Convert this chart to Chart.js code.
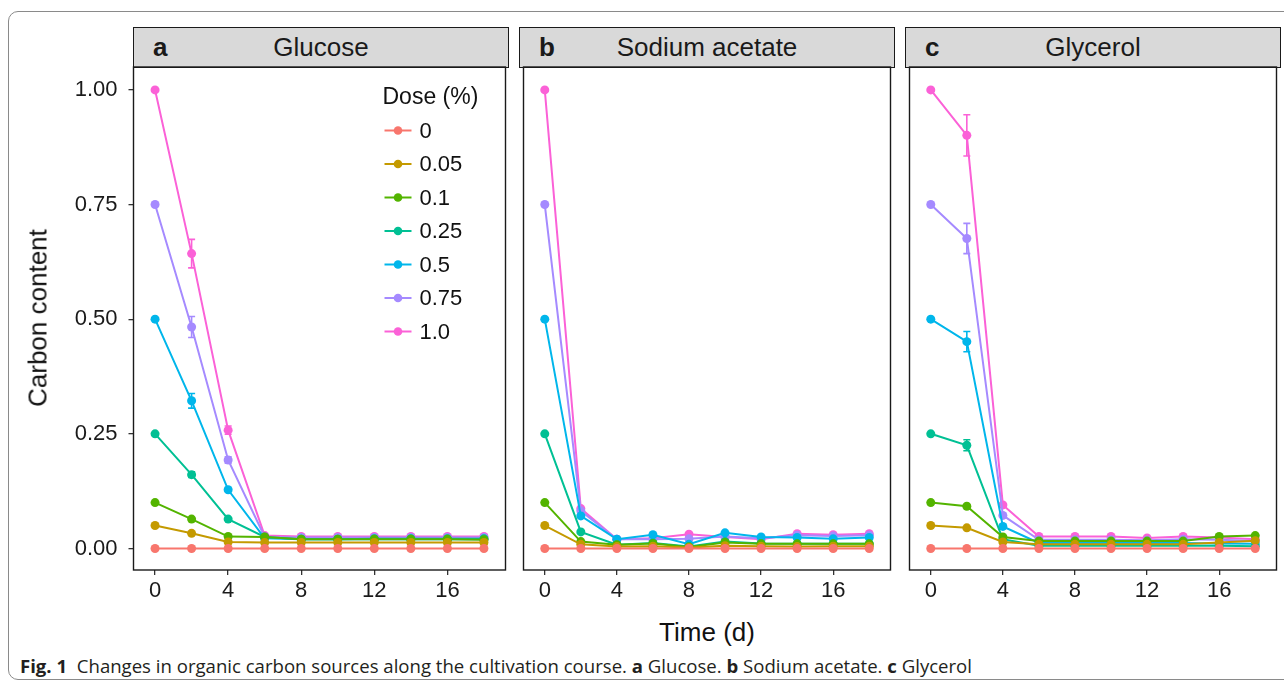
<!DOCTYPE html>
<html>
<head>
<meta charset="utf-8">
<script src="https://cdn.jsdelivr.net/npm/chart.js@4"></script>
<style>
  html, body { margin: 0; padding: 0; background: #fff; }
  body { width: 1284px; height: 685px; position: relative; overflow: hidden; font-family: "Liberation Sans", Arial, sans-serif; }
  .frame { position: absolute; left: 8px; top: 11px; width: 1300px; height: 669px; border: 1px solid #8a8a8a; border-radius: 10px; box-sizing: border-box; }
  .panel { position: absolute; top: 60px; }
  .strip { position: absolute; top: 27px; height: 41px; background: #d9d9d9; border: 1.4px solid #1a1a1a; box-sizing: border-box; font-size: 26px; color: #1a1a1a; }
  .strip .tag { position: absolute; left: 19px; top: 50%; transform: translateY(-52%); font-weight: bold; }
  .strip .name { position: absolute; left: 0; right: 0; text-align: center; top: 50%; transform: translateY(-52%); }
  .ytitle { position: absolute; left: 38px; top: 318px; transform: translate(-50%, -50%) rotate(-90deg); font-size: 26px; white-space: nowrap; color: #111; }
  .xtitle { position: absolute; left: 707px; top: 632px; transform: translate(-50%, -50%); font-size: 26px; white-space: nowrap; color: #111; }
  #caption { position: absolute; left: 20px; top: 654px; font-family: "Open Sans", sans-serif; font-size: 18px; color: #231f20; white-space: nowrap; transform-origin: left top; }
</style>
</head>
<body>
<div class="frame"></div>

<div class="strip" style="left:133px; width:376px;"><span class="tag">a</span><span class="name">Glucose</span></div>
<div class="strip" style="left:519px; width:376px;"><span class="tag">b</span><span class="name">Sodium acetate</span></div>
<div class="strip" style="left:905px; width:376px;"><span class="tag">c</span><span class="name">Glycerol</span></div>

<div class="panel" style="left:0px;"><canvas id="chart-a" width="510" height="545"></canvas></div>
<div class="panel" style="left:519px;"><canvas id="chart-b" width="376" height="545"></canvas></div>
<div class="panel" style="left:905px;"><canvas id="chart-c" width="376" height="545"></canvas></div>

<div class="ytitle">Carbon content</div>
<div class="xtitle">Time (d)</div>
<div id="caption"><b>Fig. 1</b>&nbsp; Changes in organic carbon sources along the cultivation course. <b>a</b> Glucose. <b>b</b> Sodium acetate. <b>c</b> Glycerol</div>

<script>
// ==================================================
// DATA
// ==================================================
const time = [0, 2, 4, 6, 8, 10, 12, 14, 16, 18];
const doses = ["0", "0.05", "0.1", "0.25", "0.5", "0.75", "1.0"];
const colors = ["#F8766D", "#C49A00", "#53B400", "#00C094", "#00B6EB", "#A58AFF", "#FB61D7"];
const xTicks = [0, 4, 8, 12, 16];
const yTicks = [0, 0.25, 0.5, 0.75, 1.0];

// one row per dose, same order as doses
const glucose = [
  [0, 0, 0, 0, 0, 0, 0, 0, 0, 0],
  [0.05, 0.033, 0.014, 0.013, 0.013, 0.013, 0.013, 0.013, 0.013, 0.013],
  [0.1, 0.064, 0.026, 0.025, 0.02, 0.02, 0.02, 0.02, 0.02, 0.019],
  [0.25, 0.161, 0.064, 0.025, 0.02, 0.02, 0.021, 0.021, 0.021, 0.021],
  [0.5, 0.322, 0.128, 0.022, 0.02, 0.02, 0.02, 0.02, 0.02, 0.02],
  [0.75, 0.483, 0.193, 0.025, 0.024, 0.024, 0.024, 0.024, 0.024, 0.024],
  [1.0, 0.643, 0.258, 0.028, 0.026, 0.026, 0.026, 0.026, 0.026, 0.026],
];
const glucoseErr = [
  [0, 0, 0, 0, 0, 0, 0, 0, 0, 0],
  [0, 0, 0, 0, 0, 0, 0, 0, 0, 0],
  [0, 0, 0, 0, 0, 0, 0, 0, 0, 0],
  [0, 0.006, 0, 0, 0, 0, 0, 0, 0, 0],
  [0, 0.016, 0.003, 0, 0, 0, 0, 0, 0, 0],
  [0, 0.023, 0.007, 0, 0, 0, 0, 0, 0, 0],
  [0, 0.031, 0.009, 0, 0, 0, 0, 0, 0, 0],
];

const acetate = [
  [0, 0, 0, 0, 0, 0, 0, 0, 0, 0],
  [0.05, 0.009, 0.004, 0.005, 0.002, 0.006, 0.005, 0.004, 0.005, 0.005],
  [0.1, 0.015, 0.008, 0.011, 0.003, 0.013, 0.01, 0.01, 0.01, 0.01],
  [0.25, 0.036, 0.008, 0.012, 0.004, 0.015, 0.011, 0.01, 0.01, 0.01],
  [0.5, 0.071, 0.02, 0.03, 0.009, 0.034, 0.025, 0.024, 0.021, 0.024],
  [0.75, 0.082, 0.02, 0.02, 0.021, 0.026, 0.022, 0.029, 0.027, 0.029],
  [1.0, 0.087, 0.02, 0.022, 0.031, 0.025, 0.02, 0.032, 0.03, 0.032],
];

const glycerol = [
  [0, 0, 0, 0, 0, 0, 0, 0, 0, 0],
  [0.05, 0.045, 0.014, 0.009, 0.009, 0.009, 0.009, 0.009, 0.013, 0.017],
  [0.1, 0.092, 0.025, 0.016, 0.016, 0.016, 0.016, 0.016, 0.026, 0.028],
  [0.25, 0.225, 0.02, 0.006, 0.006, 0.006, 0.006, 0.006, 0.006, 0.005],
  [0.5, 0.451, 0.048, 0.012, 0.012, 0.012, 0.012, 0.012, 0.011, 0.01],
  [0.75, 0.676, 0.072, 0.019, 0.019, 0.019, 0.018, 0.02, 0.019, 0.016],
  [1.0, 0.901, 0.095, 0.026, 0.026, 0.026, 0.023, 0.026, 0.024, 0.02],
];
const glycerolErr = [
  [0, 0, 0, 0, 0, 0, 0, 0, 0, 0],
  [0, 0, 0, 0, 0, 0, 0, 0, 0, 0],
  [0, 0, 0, 0, 0, 0, 0, 0, 0, 0],
  [0, 0.012, 0, 0, 0, 0, 0, 0, 0, 0],
  [0, 0.022, 0, 0, 0, 0, 0, 0, 0, 0],
  [0, 0.033, 0, 0, 0, 0, 0, 0, 0, 0],
  [0, 0.045, 0, 0, 0, 0, 0, 0, 0, 0],
];

// ==================================================
// PLUGINS
// ==================================================
const errorBars = {
  id: "errorBars",
  afterDatasetsDraw(chart) {
    const ctx = chart.ctx;
    const xs = chart.scales.x;
    const ys = chart.scales.y;
    chart.data.datasets.forEach((ds, i) => {
      if (!ds.err) return;
      ctx.save();
      ctx.strokeStyle = ds.borderColor;
      ctx.lineWidth = 1.6;
      ds.err.forEach((e, j) => {
        if (!e) return;
        const x = xs.getPixelForValue(time[j]);
        const top = ys.getPixelForValue(ds.data[j].y + e);
        const bot = ys.getPixelForValue(ds.data[j].y - e);
        ctx.beginPath();
        ctx.moveTo(x, top); ctx.lineTo(x, bot);
        ctx.moveTo(x - 3.5, top); ctx.lineTo(x + 3.5, top);
        ctx.moveTo(x - 3.5, bot); ctx.lineTo(x + 3.5, bot);
        ctx.stroke();
      });
      ctx.restore();
    });
  },
};

const panelBorder = {
  id: "panelBorder",
  afterDraw(chart) {
    const { left, top, right, bottom } = chart.chartArea;
    const ctx = chart.ctx;
    ctx.save();
    ctx.strokeStyle = "#1a1a1a";
    ctx.lineWidth = 1.4;
    ctx.strokeRect(left, top, right - left, bottom - top);
    ctx.restore();
  },
};

const doseLegend = {
  id: "doseLegend",
  afterDraw(chart) {
    const ctx = chart.ctx;
    const x0 = chart.chartArea.left + 249;
    const y0 = chart.chartArea.top + 31;
    ctx.save();
    ctx.fillStyle = "#111";
    ctx.textBaseline = "middle";
    ctx.font = "23px 'Liberation Sans', Arial";
    ctx.fillText("Dose (%)", x0, y0);
    ctx.font = "22px 'Liberation Sans', Arial";
    doses.forEach((d, i) => {
      const y = y0 + 32.5 + i * 33.5;
      ctx.strokeStyle = colors[i];
      ctx.lineWidth = 2;
      ctx.beginPath();
      ctx.moveTo(x0 + 2, y); ctx.lineTo(x0 + 29, y);
      ctx.stroke();
      ctx.fillStyle = colors[i];
      ctx.beginPath();
      ctx.arc(x0 + 15.5, y, 4.3, 0, Math.PI * 2);
      ctx.fill();
      ctx.fillStyle = "#111";
      ctx.fillText(d, x0 + 37, y + 1);
    });
    ctx.restore();
  },
};

// ==================================================
// CHARTS
// ==================================================
function makePanel(id, rows, errs, withAxis, withLegend) {
  const datasets = rows.map((row, i) => ({
    label: doses[i],
    data: row.map((v, j) => ({ x: time[j], y: v })),
    err: errs ? errs[i] : null,
    borderColor: colors[i],
    backgroundColor: colors[i],
    borderWidth: 2,
    pointRadius: 4.5,
    pointBorderWidth: 0,
    pointBackgroundColor: colors[i],
    tension: 0,
  }));

  const tickFont = { family: "'Liberation Sans', Arial", size: 22 };
  const plugins = [errorBars, panelBorder];
  if (withLegend) plugins.push(doseLegend);

  return new Chart(document.getElementById(id), {
    type: "line",
    data: { datasets },
    plugins,
    options: {
      responsive: false,
      animation: false,
      devicePixelRatio: 1,
      layout: { padding: { top: 7, right: 1, left: withAxis ? 0 : 1, bottom: 0 } },
      plugins: { legend: { display: false }, tooltip: { enabled: false } },
      scales: {
        x: {
          type: "linear",
          min: -1.18,
          max: 19.18,
          afterBuildTicks: (s) => { s.ticks = xTicks.map((v) => ({ value: v })); },
          afterFit: (s) => {
            s.height = 35;
            s.paddingLeft = 0; s.paddingRight = 0;
          },
          grid: { drawOnChartArea: false, drawTicks: true, tickLength: 5, tickColor: "#333", lineWidth: 1.3 },
          border: { display: false },
          ticks: { font: tickFont, color: "#1a1a1a", padding: 3, maxRotation: 0, autoSkip: false },
        },
        y: {
          display: withAxis,
          min: -0.047,
          max: 1.05,
          afterBuildTicks: (s) => { s.ticks = yTicks.map((v) => ({ value: v })); },
          afterFit: (s) => {
            if (withAxis) s.width = 133.5;
            s.paddingTop = 0; s.paddingBottom = 0;
          },
          grid: { drawOnChartArea: false, drawTicks: true, tickLength: 5, tickColor: "#333", lineWidth: 1.3 },
          border: { display: false },
          ticks: {
            font: tickFont,
            color: "#1a1a1a",
            padding: 11,
            autoSkip: false,
            callback: (v) => Number(v).toFixed(2),
          },
        },
      },
    },
  });
}

makePanel("chart-a", glucose, glucoseErr, true, true);
makePanel("chart-b", acetate, null, false, false);
makePanel("chart-c", glycerol, glycerolErr, false, false);

// squeeze the caption to the width of the printed one
const cap = document.getElementById("caption");
const w = cap.getBoundingClientRect().width;
cap.style.transform = "scaleX(" + (952 / w) + ")";
</script>
</body>
</html>
